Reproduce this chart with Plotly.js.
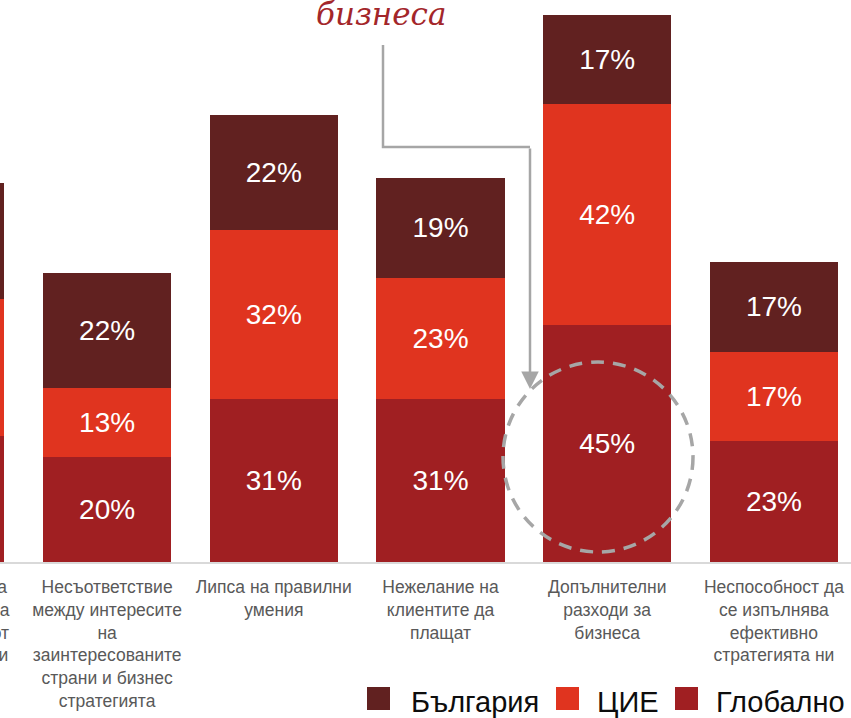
<!DOCTYPE html>
<html>
<head>
<meta charset="utf-8">
<script src="https://cdn.plot.ly/plotly-3.0.1.min.js"></script>
<style>
  html, body { margin: 0; padding: 0; width: 851px; height: 718px; overflow: hidden; background: #fff; }
  #chart { position: absolute; left: -140px; top: 0; width: 991px; height: 718px; }
</style>
</head>
<body>
<div id="chart"></div>
<script>
// ---- data ----
const categories = [
  "Липса на яснота<br>по отношение на<br>за подкрепата от<br>мениджърите ни",
  "Несъответствие<br>между интересите<br>на<br>заинтересованите<br>страни и бизнес<br>стратегията",
  "Липса на правилни<br>умения",
  "Нежелание на<br>клиентите да<br>плащат",
  "Допълнителни<br>разходи за<br>бизнеса",
  "Неспособност да<br>се изпълнява<br>ефективно<br>стратегията ни"
];
const globalVals   = [24, 20, 31, 31, 45, 23];
const cieVals      = [26, 13, 32, 23, 42, 17];
const bulgariaVals = [22, 22, 22, 19, 17, 17];
const seriesNames  = ["Глобално", "ЦИЕ", "България"];
const seriesColors = ["#a01f22", "#e0341f", "#612120"];
const titleText = "бизнеса";

// ---- helpers (viewport pixel -> paper) ----
const W = 991, OFF = 140, PLOT_H = 562;
const px = v => (v + OFF) / W;
const py = v => (PLOT_H - v) / PLOT_H;

// the first category lies outside the cropped view: its value labels are not shown
const labelTemplates = categories.map((c, i) => (i === 0 ? "" : "%{y}%"));

const series = [globalVals, cieVals, bulgariaVals];
const traces = series.map((vals, i) => ({
  type: "bar",
  x: categories,
  y: vals,
  name: seriesNames[i],
  marker: { color: seriesColors[i], line: { width: 0 } },
  texttemplate: labelTemplates,
  textposition: "inside",
  insidetextanchor: "middle",
  constraintext: "none",
  textangle: 0,
  textfont: { family: "Liberation Sans, Arial, sans-serif", size: 28, color: "#ffffff" },
  hoverinfo: "skip",
  showlegend: false
}));

// manual legend (order as in reference)
const legendOrder = [2, 1, 0];
const legendSquaresX = [367, 556, 675];
const legendTextX = [409, 595, 714];
const shapes = [];
const annotations = [];
legendOrder.forEach((si, k) => {
  shapes.push({
    type: "rect", xref: "paper", yref: "paper",
    x0: px(legendSquaresX[k]), x1: px(legendSquaresX[k] + 23),
    y0: py(710), y1: py(687),
    fillcolor: seriesColors[si], line: { width: 0 }
  });
  annotations.push({
    xref: "paper", yref: "paper",
    x: px(legendTextX[k]), y: py(702),
    xanchor: "left", yanchor: "middle",
    text: seriesNames[si], showarrow: false,
    font: { family: "Liberation Sans, Arial, sans-serif", size: 29, color: "#0d0d0d" }
  });
});

// title fragment
annotations.push({
  xref: "paper", yref: "paper",
  x: px(381), y: py(34), xanchor: "center", yanchor: "bottom",
  text: "<i>" + titleText + "</i>", showarrow: false,
  font: { family: "'DejaVu Serif', 'Liberation Serif', serif", size: 31, color: "#a3262a" }
});

// connector line from title to bar
shapes.push({
  type: "path", xref: "paper", yref: "paper",
  path: `M ${px(383)},${py(45)} L ${px(383)},${py(147)} L ${px(530)},${py(147)}`,
  line: { color: "#a6a6a6", width: 2.5 }
});
annotations.push({
  xref: "paper", yref: "paper",
  x: px(530), y: py(389), ax: 0, ay: -(389 - 147),
  text: "", showarrow: true, arrowhead: 2, arrowsize: 1.4, arrowwidth: 2.5,
  arrowcolor: "#a6a6a6", standoff: 0
});

// dashed highlight circle
shapes.push({
  type: "circle", xref: "paper", yref: "paper",
  x0: px(503), x1: px(693), y0: py(552), y1: py(362),
  line: { color: "#a6a6a6", width: 3.5, dash: "13px,9px" },
  fillcolor: "rgba(0,0,0,0)"
});

const layout = {
  width: W, height: 718,
  margin: { l: 0, r: 0, t: 0, b: 718 - PLOT_H },
  barmode: "stack",
  bargap: 0.232,
  paper_bgcolor: "#ffffff",
  plot_bgcolor: "#ffffff",
  showlegend: false,
  xaxis: {
    type: "category",
    range: [-0.4823, 5.4625],
    showline: true, linecolor: "#d9d9d9", linewidth: 2,
    ticks: "", showgrid: false, zeroline: false,
    ticklabelstandoff: 8,
    tickfont: { family: "Liberation Sans, Arial, sans-serif", size: 17.5, color: "#595959" }
  },
  yaxis: { range: [0, 106.8], visible: false, fixedrange: true },
  shapes: shapes,
  annotations: annotations
};

Plotly.newPlot("chart", traces, layout, { displayModeBar: false, staticPlot: true });
</script>
</body>
</html>
